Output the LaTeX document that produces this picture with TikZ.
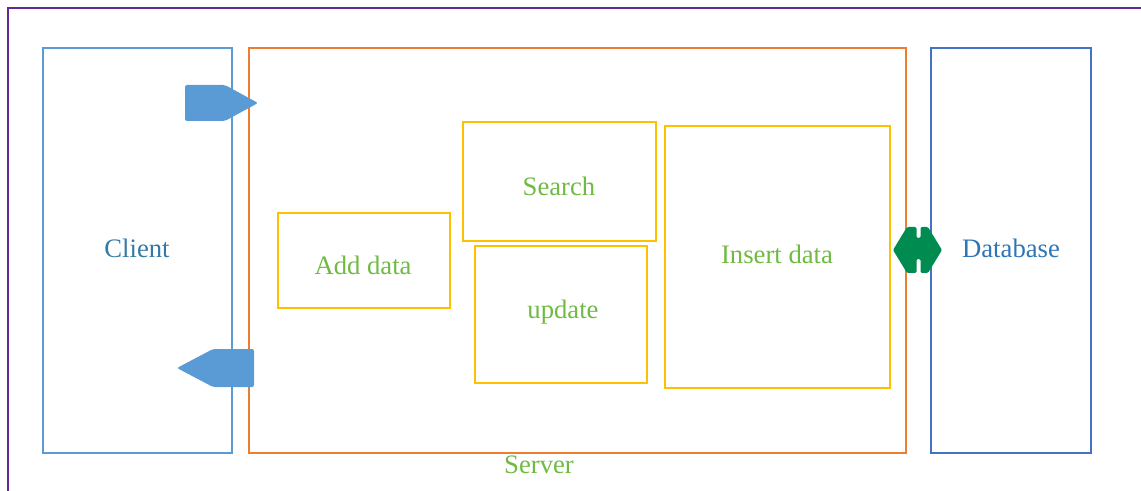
\documentclass[tikz,border=0pt]{standalone}
\usepackage{xcolor}
\usepackage{fontspec}
\setmainfont{Liberation Serif}
\usepackage{tikz}

\definecolor{framepurple}{RGB}{100,40,150}
\definecolor{clientblue}{RGB}{91,155,213}
\definecolor{serverorange}{RGB}{237,125,49}
\definecolor{dbblue}{RGB}{68,114,196}
\definecolor{boxyellow}{RGB}{255,192,0}
\definecolor{labelgreen}{RGB}{112,186,68}
\definecolor{linkgreen}{RGB}{0,140,80}
\definecolor{clienttext}{RGB}{52,122,164}
\definecolor{dbtext}{RGB}{46,117,182}

\tikzset{
  box/.style={line width=1.5pt},
  funcbox/.style={draw=boxyellow, line width=1.5pt},
  lbl/.style={inner sep=0.75pt, font=\fontsize{20}{24}\selectfont},
}

\begin{document}
\begin{tikzpicture}[x=0.75pt,y=0.75pt,yscale=-1,xscale=1]
\useasboundingbox (0,0) rectangle (1141,491);

%Shape: Frame
\draw [framepurple, line width=1.9pt]  (1160,8) -- (8,8) -- (8,510) ;
%Shape: Rectangle [client]
\draw [clientblue, box]  (43,48) rectangle (232,453) ;
%Shape: Rectangle [server]
\draw [serverorange, box]  (249,48) rectangle (906,453) ;
%Shape: Rectangle [database]
\draw [dbblue, box]  (931,48) rectangle (1091,453) ;

%Shape: Rectangle [add data]
\draw [funcbox]  (278,213) rectangle (450,308) ;
%Shape: Rectangle [search]
\draw [funcbox]  (463,122) rectangle (656,241) ;
%Shape: Rectangle [update]
\draw [funcbox]  (475,246) rectangle (647,383) ;
%Shape: Rectangle [insert data]
\draw [funcbox]  (665,126) rectangle (890,388) ;

%Shape: Right Arrow
\fill [clientblue, rounded corners=1.5]  (185,85) -- (225,85) -- (258,103) -- (225,121) -- (185,121) -- cycle ;
%Shape: Left Arrow
\fill [clientblue, rounded corners=1.5]  (254,349) -- (213,349) -- (177,368) -- (213,387) -- (254,387) -- cycle ;
%Shape: Left-Right Arrow
\fill [linkgreen, rounded corners=1]  (893,250) -- (907,227) -- (916.5,227) -- (916.5,238) -- (920.5,238) -- (920.5,227) -- (928,227) -- (942,250) -- (928,273) -- (920.5,273) -- (920.5,259) -- (916.5,259) -- (916.5,273) -- (907,273) -- cycle ;

% Text Node
\node [lbl, text=clienttext] (client) at (137,248) {Client};
% Text Node
\node [lbl, text=labelgreen] (server) at (539,465) {Server};
% Text Node
\node [lbl, text=dbtext] (database) at (1011,248) {Database};
% Text Node
\node [lbl, text=labelgreen] (adddata) at (363,265) {Add data};
% Text Node
\node [lbl, text=labelgreen] (search) at (559,186) {Search};
% Text Node
\node [lbl, text=labelgreen] (update) at (563,312) {update};
% Text Node
\node [lbl, text=labelgreen] (insertdata) at (777,254) {Insert data};

\end{tikzpicture}
\end{document}
